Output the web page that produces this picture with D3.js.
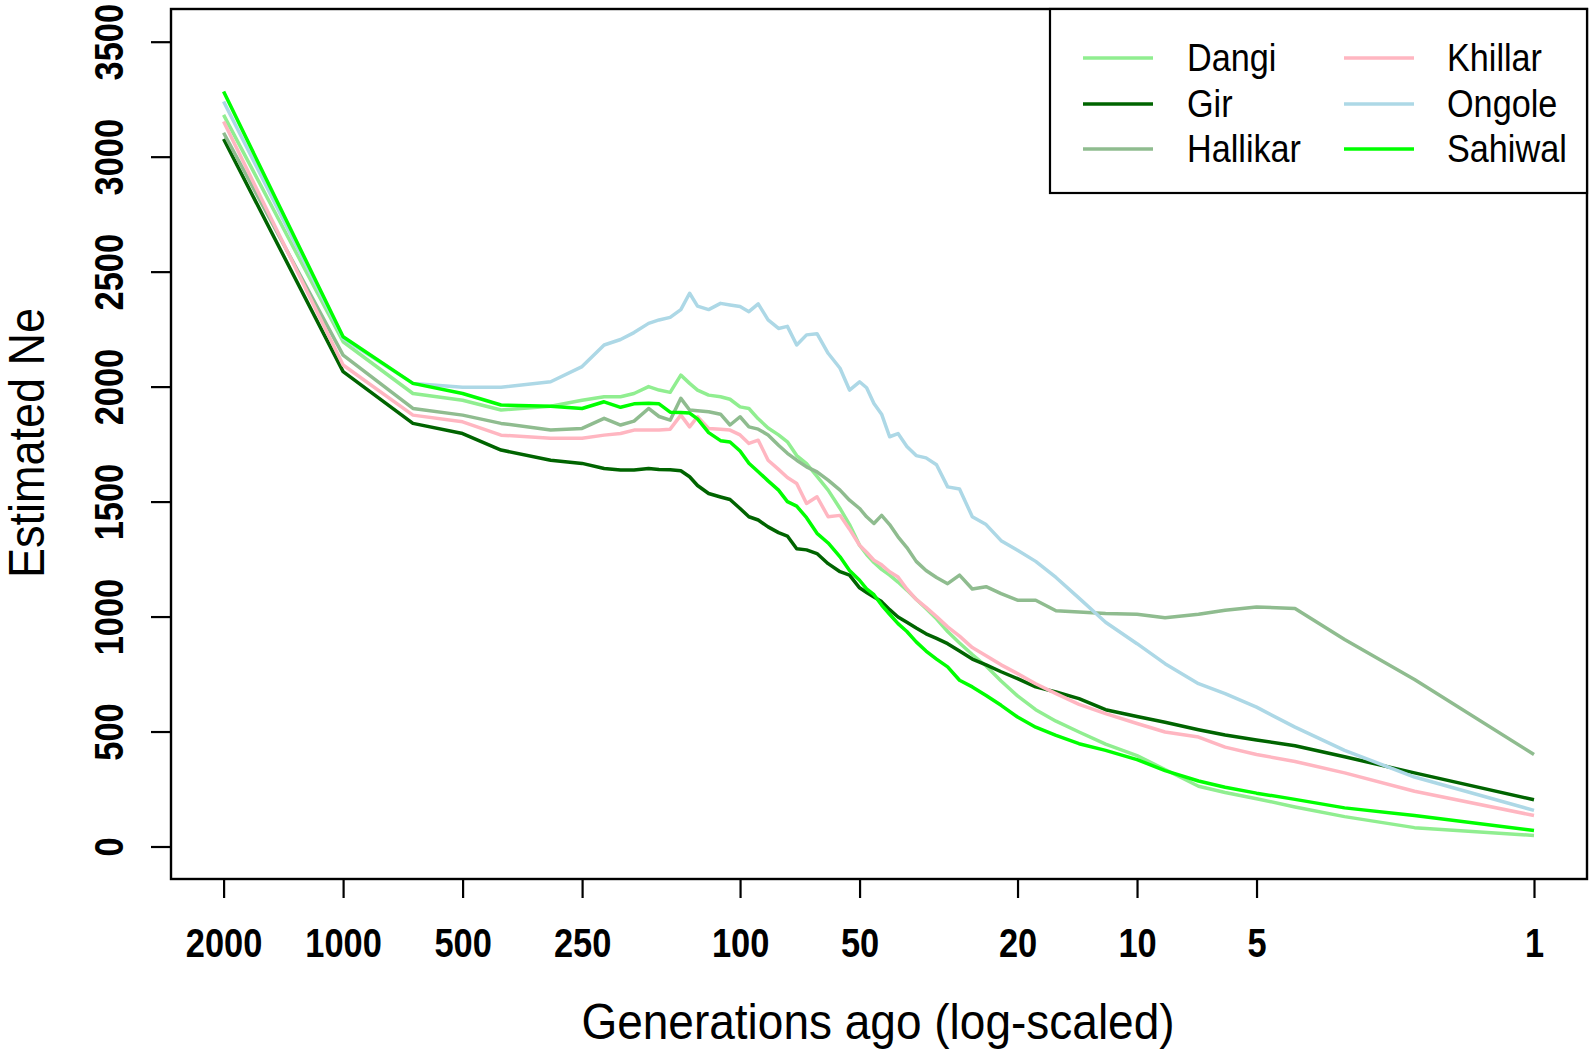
<!DOCTYPE html>
<html>
<head>
<meta charset="utf-8">
<script src="https://cdn.jsdelivr.net/npm/d3@7/dist/d3.min.js"></script>
<style>
  html, body { margin: 0; padding: 0; background: #ffffff; }
  svg { display: block; }
</style>
</head>
<body>
<svg id="chart" width="1594" height="1055"></svg>
<script>
// ---------------- DATA ----------------
const generations = [2000, 1000, 667, 500, 400, 300, 250, 220, 200, 185,
  170, 160, 150, 141, 134, 128, 120, 112, 106, 100,
  95, 90, 85, 80, 76, 72, 68, 64, 60, 56,
  53, 50, 48, 46, 44, 42, 40, 38, 36, 34,
  32, 30, 28, 26, 24, 22, 20, 18, 16, 14,
  12, 10, 8.5, 7, 6, 5, 4, 3, 2, 1];

const dangi = [3182, 2195, 1970, 1941, 1898, 1915, 1941, 1956, 1956, 1970,
  2000, 1985, 1975, 2050, 2014, 1985, 1963, 1956, 1945, 1912,
  1905, 1860, 1820, 1790, 1760, 1700, 1665, 1610, 1550, 1470,
  1400, 1310, 1270, 1235, 1205, 1180, 1150, 1115, 1075, 1035,
  990, 935, 885, 835, 785, 720, 655, 595, 545, 498,
  445, 395, 335, 262, 235, 208, 172, 130, 82, 48];

const gir = [3077, 2065, 1840, 1796, 1724, 1680, 1666, 1644, 1637, 1637,
  1644, 1640, 1638, 1634, 1608, 1570, 1535, 1520, 1509, 1470,
  1434, 1420, 1390, 1365, 1350, 1295, 1290, 1274, 1230, 1195,
  1180, 1125, 1105, 1085, 1065, 1030, 998, 975, 950, 925,
  905, 882, 850, 815, 790, 760, 730, 694, 672, 643,
  595, 565, 540, 508, 485, 463, 438, 390, 320, 203];

const hallikar = [3104, 2137, 1905, 1876, 1840, 1811, 1818, 1862, 1833, 1850,
  1905, 1870, 1854, 1949, 1898, 1895, 1891, 1880, 1833, 1869,
  1825, 1815, 1790, 1745, 1710, 1680, 1651, 1629, 1593, 1550,
  1506, 1470, 1434, 1405, 1440, 1400, 1347, 1300, 1240, 1200,
  1170, 1143, 1180, 1120, 1130, 1100, 1071, 1071, 1025, 1020,
  1013, 1010, 995, 1010, 1027, 1042, 1035, 900, 726, 400];

const khillar = [3153, 2094, 1876, 1847, 1789, 1775, 1775, 1789, 1796, 1811,
  1811, 1811, 1815, 1876, 1825, 1869, 1818, 1815, 1811, 1790,
  1753, 1767, 1680, 1640, 1605, 1579, 1492, 1521, 1434, 1440,
  1380, 1310, 1280, 1245, 1225, 1195, 1172, 1120, 1075, 1040,
  1000, 955, 915, 865, 830, 790, 752, 708, 665, 618,
  578, 535, 498, 476, 432, 400, 370, 320, 240, 135];

const ongole = [3240, 2210, 2014, 1997, 1997, 2021, 2087, 2181, 2205, 2235,
  2275, 2290, 2301, 2335, 2406, 2350, 2335, 2362, 2355, 2348,
  2326, 2360, 2290, 2253, 2262, 2181, 2225, 2230, 2145, 2080,
  1985, 2021, 1995, 1927, 1880, 1782, 1796, 1740, 1700, 1690,
  1660, 1564, 1555, 1434, 1400, 1330, 1288, 1240, 1170, 1080,
  975, 882, 795, 708, 665, 606, 519, 418, 302, 157];

const sahiwal = [3283, 2217, 2014, 1970, 1920, 1915, 1905, 1934, 1910, 1925,
  1928, 1925, 1889, 1887, 1885, 1860, 1800, 1765, 1759, 1720,
  1667, 1630, 1590, 1550, 1500, 1480, 1430, 1362, 1320, 1260,
  1200, 1158, 1120, 1095, 1050, 1010, 969, 935, 890, 850,
  815, 781, 723, 694, 657, 614, 563, 519, 483, 447,
  418, 378, 330, 285, 258, 232, 205, 168, 135, 70];

const breeds = ["Dangi", "Gir", "Hallikar", "Khillar", "Ongole", "Sahiwal"];
const breedValues = [dangi, gir, hallikar, khillar, ongole, sahiwal];
const breedColors = ["#90EE90", "#006400", "#8FBC8F", "#FFB6C1", "#ADD8E6", "#00FF00"];

const xTickValues = [2000, 1000, 500, 250, 100, 50, 20, 10, 5, 1];
const yTickValues = [0, 500, 1000, 1500, 2000, 2500, 3000, 3500];

const xTitle = "Generations ago (log-scaled)";
const yTitle = "Estimated Ne";

// ---------------- LAYOUT ----------------
const FONT = "'Liberation Sans', Arial, Helvetica, sans-serif";
const box = { left: 171, right: 1587, top: 9, bottom: 879 };

const svg = d3.select("#chart");

const x = d3.scaleLog().domain([2000, 1]).range([223.6, 1534]);
const y = d3.scaleLinear().domain([0, 3500]).range([846.5, 41.7]);

// squeeze text horizontally (R output text is narrower than the same-height Arial)
function squeeze(sel, ratio) {
  sel.each(function () {
    const w = this.getComputedTextLength();
    this.setAttribute("textLength", (w * ratio).toFixed(1));
    this.setAttribute("lengthAdjust", "spacingAndGlyphs");
  });
}

// ---------------- LINES ----------------
const line = d3.line()
  .x((d) => x(d[0]))
  .y((d) => y(d[1]));

const linesG = svg.append("g").attr("class", "lines");
breeds.forEach((name, i) => {
  const pts = generations.map((g, j) => [g, breedValues[i][j]]);
  linesG.append("path")
    .datum(pts)
    .attr("d", line)
    .attr("fill", "none")
    .attr("stroke", breedColors[i])
    .attr("stroke-width", 3.5)
    .attr("stroke-linejoin", "round")
    .attr("stroke-linecap", "butt");
});

// ---------------- BOX ----------------
svg.append("rect")
  .attr("x", box.left).attr("y", box.top)
  .attr("width", box.right - box.left)
  .attr("height", box.bottom - box.top)
  .attr("fill", "none")
  .attr("stroke", "#000")
  .attr("stroke-width", 2.4);

// ---------------- AXES ----------------
const xAxis = d3.axisBottom(x)
  .tickValues(xTickValues)
  .tickFormat(d3.format("d"))
  .tickSize(19)
  .tickSizeOuter(0);

const xg = svg.append("g")
  .attr("transform", `translate(0,${box.bottom})`)
  .call(xAxis);
xg.select(".domain").remove();
xg.selectAll(".tick line").attr("stroke", "#000").attr("stroke-width", 2.2);
xg.selectAll(".tick text")
  .attr("y", 0)
  .attr("dy", 0)
  .attr("transform", "translate(0,78)")
  .attr("fill", "#000")
  .style("font-family", FONT)
  .style("font-weight", "bold")
  .style("font-size", "40px");
squeeze(xg.selectAll(".tick text"), 0.86);

const yAxis = d3.axisLeft(y)
  .tickValues(yTickValues)
  .tickFormat(d3.format("d"))
  .tickSize(20)
  .tickSizeOuter(0);

const yg = svg.append("g")
  .attr("transform", `translate(${box.left},0)`)
  .call(yAxis);
yg.select(".domain").remove();
yg.selectAll(".tick line").attr("stroke", "#000").attr("stroke-width", 2.2);
yg.selectAll(".tick text")
  .attr("x", 0)
  .attr("dy", 0)
  .attr("transform", "translate(-48,0) rotate(-90)")
  .attr("text-anchor", "middle")
  .attr("fill", "#000")
  .style("font-family", FONT)
  .style("font-weight", "bold")
  .style("font-size", "40px");
squeeze(yg.selectAll(".tick text"), 0.86);

// ---------------- TITLES ----------------
const xt = svg.append("text")
  .attr("x", (box.left + box.right) / 2 - 1)
  .attr("y", 1039)
  .attr("text-anchor", "middle")
  .attr("fill", "#000")
  .style("font-family", FONT)
  .style("font-size", "50px")
  .text(xTitle);
squeeze(xt, 0.92);

const yt = svg.append("text")
  .attr("transform", `translate(44,${(box.top + box.bottom) / 2 - 1}) rotate(-90)`)
  .attr("text-anchor", "middle")
  .attr("fill", "#000")
  .style("font-family", FONT)
  .style("font-size", "50px")
  .text(yTitle);
squeeze(yt, 0.9);

// ---------------- LEGEND ----------------
const legend = { left: 1050, top: 9, right: 1587, bottom: 193 };
const lg = svg.append("g").attr("class", "legend");
lg.append("rect")
  .attr("x", legend.left).attr("y", legend.top)
  .attr("width", legend.right - legend.left)
  .attr("height", legend.bottom - legend.top)
  .attr("fill", "#fff")
  .attr("stroke", "#000")
  .attr("stroke-width", 2.2);

const colLineX = [1083, 1344];
const colTextX = [1187, 1447];
const rowY = [58, 104, 149];
const lineLen = 70;

breeds.forEach((name, i) => {
  const col = Math.floor(i / 3);
  const row = i % 3;
  lg.append("line")
    .attr("x1", colLineX[col]).attr("x2", colLineX[col] + lineLen)
    .attr("y1", rowY[row]).attr("y2", rowY[row])
    .attr("stroke", breedColors[i])
    .attr("stroke-width", 3.5);
  const t = lg.append("text")
    .attr("x", colTextX[col])
    .attr("y", rowY[row] + 13)
    .attr("fill", "#000")
    .style("font-family", FONT)
    .style("font-size", "38px")
    .text(name);
  squeeze(t, 0.9);
});
</script>
</body>
</html>
